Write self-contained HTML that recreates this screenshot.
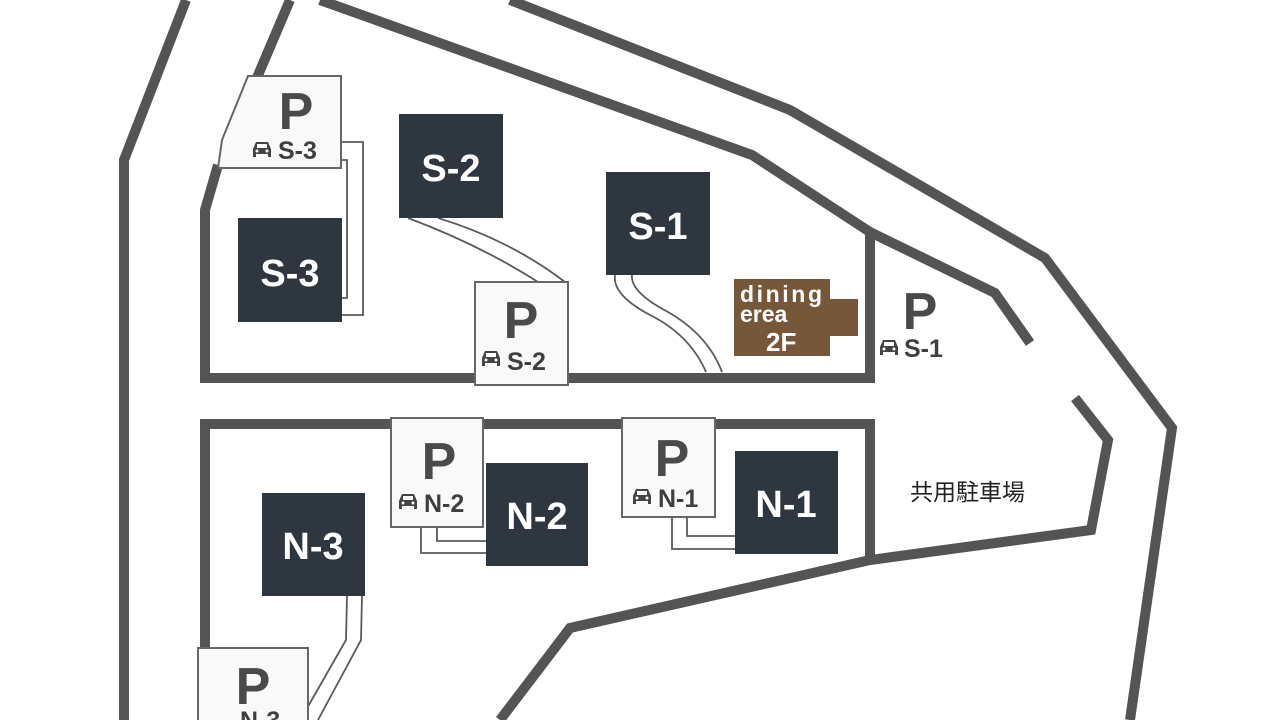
<!DOCTYPE html>
<html><head><meta charset="utf-8"><style>
html,body{margin:0;padding:0;background:#fff;width:1280px;height:720px;overflow:hidden}
svg{display:block}
.w{fill:none;stroke:#545454;stroke-width:10;stroke-linejoin:miter}
.t{fill:none;stroke:#5a5a5a;stroke-width:1.8}
.b{fill:#2e3640}
.pb{fill:#f9f9f9;stroke:#666;stroke-width:2}
.bl{font-family:"Liberation Sans",sans-serif;font-weight:bold;fill:#fff;font-size:38px;text-anchor:middle}
.p{font-family:"Liberation Sans",sans-serif;font-weight:bold;fill:#4a4a4a;font-size:52px;text-anchor:middle}
.pl{font-family:"Liberation Sans",sans-serif;font-weight:bold;fill:#3f3f3f;font-size:25px}
</style></head><body>
<svg width="1280" height="720" viewBox="0 0 1280 720">
<defs>
<g id="car"><path d="M1,9 L4,2 H16 L19,9 V17 H16 V14 H4 V17 H1 Z" fill="#444"/><rect x="5" y="4" width="10" height="4" fill="#fff"/><circle cx="5" cy="11" r="1.5" fill="#fff"/><circle cx="15" cy="11" r="1.5" fill="#fff"/></g>
</defs>
<polyline class="w" points="186,0 124,160 124,720"/>
<polyline class="w" points="290,0 256,80"/>
<polyline class="w" points="218,165 205,210 205,378 870,378 870,232"/>
<polyline class="w" points="320,0 752,155 870,232 995,293 1030,343"/>
<polyline class="w" points="510,0 790,110 1045,258 1172,428 1130,720"/>
<polyline class="w" points="1075,398 1108,440 1091,530 870,560 570,628 500,720"/>
<polyline class="w" points="205,650 205,424 870,424 870,560"/>
<polyline class="t" points="341,142 363,142 363,315 342,315"/>
<polyline class="t" points="341,160 347,160 347,298 342,298"/>
<path class="t" d="M408,218 Q480,245 538,282"/>
<path class="t" d="M438,218 Q510,240 565,282"/>
<path class="t" d="M615,275 Q612,295 650,315 Q690,335 706,372"/>
<path class="t" d="M632,275 Q630,292 668,312 Q708,335 722,372"/>
<polyline class="t" points="421,527 421,553 486,553"/>
<polyline class="t" points="437,527 437,541 486,541"/>
<polyline class="t" points="672,517 672,549 735,549"/>
<polyline class="t" points="687,517 687,536 735,536"/>
<polyline class="t" points="347,596 346,640 306,710"/>
<polyline class="t" points="362,596 361,640 318,720"/>
<polygon class="pb" points="248,76 341,76 341,168 218,168 222,140"/>
<rect class="pb" x="475" y="282" width="93" height="103"/>
<rect class="pb" x="391" y="418" width="92" height="109"/>
<rect class="pb" x="622" y="418" width="93" height="99"/>
<rect class="pb" x="198" y="648" width="110" height="80"/>
<rect class="b" x="238" y="218" width="104" height="104"/>
<rect class="b" x="399" y="114" width="104" height="104"/>
<rect class="b" x="606" y="172" width="104" height="103"/>
<rect class="b" x="262" y="493" width="103" height="103"/>
<rect class="b" x="486" y="463" width="102" height="103"/>
<rect class="b" x="735" y="451" width="103" height="103"/>
<text class="bl" x="290" y="286">S-3</text>
<text class="bl" x="451" y="181">S-2</text>
<text class="bl" x="658" y="239">S-1</text>
<text class="bl" x="313" y="559">N-3</text>
<text class="bl" x="537" y="529">N-2</text>
<text class="bl" x="786" y="517">N-1</text>
<rect x="734" y="279" width="96" height="77" fill="#76573a"/>
<rect x="828" y="299" width="30" height="37" fill="#76573a"/>
<text x="740" y="302" font-family="Liberation Sans,sans-serif" font-weight="bold" font-size="23" fill="#fff" textLength="82">dining</text>
<text x="740" y="322" font-family="Liberation Sans,sans-serif" font-weight="bold" font-size="23" fill="#fff">erea</text>
<text x="766" y="351" font-family="Liberation Sans,sans-serif" font-weight="bold" font-size="26" fill="#fff">2F</text>
<text class="p" x="296" y="129">P</text><use href="#car" x="252" y="140"/><text class="pl" x="278" y="159">S-3</text>
<text class="p" x="521" y="338">P</text><use href="#car" x="481" y="349"/><text class="pl" x="507" y="370">S-2</text>
<text class="p" x="439" y="479">P</text><use href="#car" x="398" y="492"/><text class="pl" x="424" y="512">N-2</text>
<text class="p" x="672" y="476">P</text><use href="#car" x="632" y="487"/><text class="pl" x="658" y="507">N-1</text>
<text class="p" x="253" y="704">P</text><text class="pl" x="240" y="729">N-3</text>
<text class="p" x="920" y="329">P</text><use href="#car" x="879" y="338"/><text class="pl" x="904" y="357">S-1</text>
<text x="910" y="500" font-family="Liberation Sans,'Noto Sans CJK JP',sans-serif" font-size="23" fill="#222">共用駐車場</text>
</svg>
</body></html>
